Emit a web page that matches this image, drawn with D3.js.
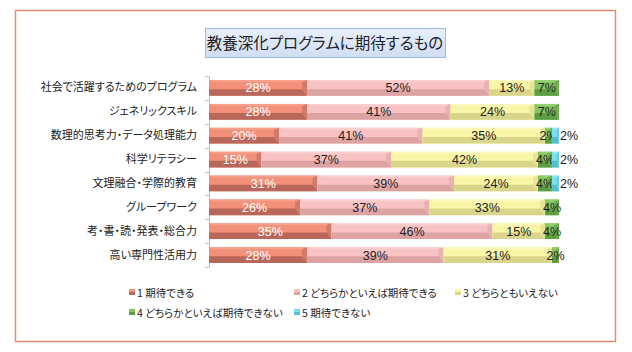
<!DOCTYPE html>
<html><head><meta charset="utf-8">
<script src="https://cdn.jsdelivr.net/npm/d3@7"></script>
<style>body{margin:0;background:#fff}svg{display:block}text{font-feature-settings:"palt" 1}</style>
</head><body>
<svg id="c" width="632" height="352"></svg>
<script>
const categories = ["社会で活躍するためのプログラム","ジェネリックスキル","数理的思考力・データ処理能力","科学リテラシー","文理融合・学際的教育","グループワーク","考・書・読・発表・総合力","高い専門性活用力"];
const seriesNames = ["1 期待できる","2 どちらかといえば期待できる","3 どちらともいえない","4 どちらかといえば期待できない","5 期待できない"];
const s1 = [28,28,20,15,31,26,35,28];
const s2 = [52,41,41,37,39,37,46,39];
const s3 = [13,24,35,42,24,33,15,31];
const s4 = [7,7,2,4,4,4,4,2];
const s5 = [0,0,2,2,2,0,0,0];
const title = "教養深化プログラムに期待するもの";

const series = [s1,s2,s3,s4,s5];
const colors = ["#F3907A","#F9C3C3","#F8F6A6","#86C45E","#79E2EE"];
const darks  = ["#B9675A","#DDA3A3","#D9D58A","#5E9E40","#55BFCF"];
const lights = ["#F6A08C","#FBCFCF","#FAF8BA","#97CE70","#92E9F2"];
const labelColors = ["#fff","#222","#222","#222","#222"];
const font = "'Noto Sans CJK JP','Liberation Sans',Arial,sans-serif";
const numFont = "'Liberation Sans',Arial,sans-serif";

const svg = d3.select("#c");
svg.append("rect").attr("x",15.5).attr("y",10.5).attr("width",600).attr("height",331)
  .attr("fill","#fff").attr("stroke","#EA8A6E").attr("stroke-width",1.5);

const defs = svg.append("defs");
const tg = defs.append("linearGradient").attr("id","tg").attr("x1",0).attr("y1",0).attr("x2",0).attr("y2",1);
tg.append("stop").attr("offset",0).attr("stop-color","#E9F0FB");
tg.append("stop").attr("offset",1).attr("stop-color","#CFDDF3");
svg.append("rect").attr("x",205.5).attr("y",28.5).attr("width",240).attr("height",29)
  .attr("fill","url(#tg)").attr("stroke","#9DB9E4").attr("stroke-width",1);
svg.append("text").attr("x",325).attr("y",48.5).attr("text-anchor","middle")
  .attr("font-family",font).attr("font-size",15.5).attr("fill","#222").text(title);

const x = d3.scaleLinear().domain([0,100]).range([209,559]);
const y = d3.scaleBand().domain(categories).range([76,267]).paddingInner(0.34).paddingOuter(0.17);

const yAxis = d3.axisLeft(y).tickSize(0).tickPadding(12);
const ag = svg.append("g").attr("transform","translate(209,0)").call(yAxis);
ag.select(".domain").attr("stroke","#BFBFBF");
ag.selectAll("text").attr("font-family",font).attr("font-size",11).attr("fill","#222");
const bounds = d3.range(categories.length+1).map(i => 76 + i*(191/categories.length));
svg.append("g").selectAll("line").data(bounds).join("line")
  .attr("x1",205).attr("x2",209).attr("y1",d=>Math.round(d)+0.5).attr("y2",d=>Math.round(d)+0.5)
  .attr("stroke","#BFBFBF");

const stacked = d3.stack().keys(d3.range(5))(categories.map((c,i)=>series.map(s=>s[i])));
const bh = y.bandwidth();

stacked.forEach((layer,k)=>{
  const g = svg.append("g");
  layer.forEach((d,i)=>{
    const v = series[k][i];
    if(!v) return;
    const x0 = x(d[0]), x1 = x(d[1]), y0 = y(categories[i]), y1 = y0+bh;
    const w = x1-x0;
    const bev = Math.min(5, w/3);
    g.append("rect").attr("x",x0).attr("y",y0).attr("width",w).attr("height",bh).attr("fill",colors[k]);
    g.append("polygon").attr("points",[[x0,y0],[x1,y0],[x1-bev,y0+2],[x0+bev,y0+2]].join(" ")).attr("fill",lights[k]);
    const ym = y0 + bh*0.58;
    g.append("polygon").attr("points",[[x0,ym],[x1-bev,ym],[x1,y1],[x0,y1]].join(" ")).attr("fill",darks[k]);
    g.append("polygon").attr("points",[[x1-bev,y0+2],[x1,y0],[x1,y1],[x1-bev,ym]].join(" ")).attr("fill",darks[k]).attr("opacity",0.55);
    const outside = (k===4);
    g.append("text")
      .attr("x", outside ? x1+1 : (x0+x1)/2)
      .attr("y", y0+bh/2+4.5)
      .attr("text-anchor", outside ? "start" : "middle")
      .attr("font-family",numFont).attr("font-size",12.5)
      .attr("fill", labelColors[k]).text(v+"%");
  });
});

const legPos = [[129,292],[294,292],[455,292],[129,312],[294,312]];
const lg = svg.append("g");
seriesNames.forEach((n,k)=>{
  const [lx,ly] = legPos[k];
  lg.append("rect").attr("x",lx).attr("y",ly-3).attr("width",6).attr("height",6).attr("fill",colors[k]);
  lg.append("rect").attr("x",lx).attr("y",ly).attr("width",6).attr("height",3).attr("fill",darks[k]);
  lg.append("text").attr("x",lx+8).attr("y",ly+4.5).attr("font-family",font).attr("font-size",10.5)
    .attr("fill","#222").text(n);
});
</script>
</body></html>
